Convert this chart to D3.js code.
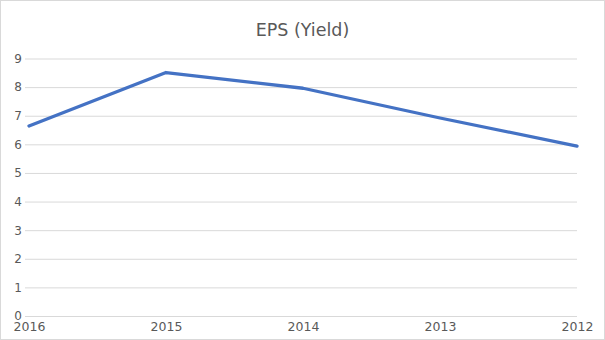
<!DOCTYPE html>
<html><head><meta charset="utf-8">
<script src="https://cdn.jsdelivr.net/npm/d3@7"></script>
<style>body{margin:0;background:#fff}svg{display:block}</style>
</head><body>
<svg id="c" width="605" height="340"></svg>
<script>
const categories = ["2016","2015","2014","2013","2012"];
const epsValues = [6.64, 8.51, 7.96, 6.92, 5.94];
const yTicks = [0,1,2,3,4,5,6,7,8,9];
const title = "EPS (Yield)";

const svg = d3.select("#c");
const W = 605, H = 340;
const m = {left: 29, right: 28, top: 58.5, bottom: 24};
const font = "DejaVu Sans, sans-serif";

svg.append("rect").attr("x",0.5).attr("y",0.5).attr("width",W-1).attr("height",H-1)
  .attr("fill","#fff").attr("stroke","#d9d9d9");

const x = d3.scalePoint().domain(categories).range([m.left, W - m.right]).padding(0);
const y = d3.scaleLinear().domain([0,9]).range([H - m.bottom, m.top]);

const yAxis = svg.append("g").attr("transform",`translate(${m.left - 4},0)`)
  .call(d3.axisLeft(y).tickValues(yTicks).tickSize(-(W - m.right - m.left + 4)).tickPadding(3).tickFormat(d3.format("d")));
yAxis.select(".domain").remove();
yAxis.selectAll(".tick line").attr("stroke","#d9d9d9");
yAxis.selectAll(".tick text").attr("fill","#595959").attr("font-family",font).attr("font-size","12px");

const xAxis = svg.append("g").attr("transform",`translate(0,${H - m.bottom})`)
  .call(d3.axisBottom(x).tickSize(0).tickPadding(6));
xAxis.select(".domain").remove();
xAxis.selectAll(".tick text").attr("fill","#595959").attr("font-family",font).attr("font-size","12.5px");

const line = d3.line().x((d,i)=>x(categories[i])).y(d=>y(d));
svg.append("path").datum(epsValues).attr("d",line).attr("fill","none")
  .attr("stroke","#4472C4").attr("stroke-width",3.3).attr("stroke-linejoin","round").attr("stroke-linecap","round");

svg.append("text").attr("x",W/2).attr("y",36).attr("text-anchor","middle")
  .attr("font-family",font).attr("font-size","17.5px").attr("fill","#595959").text(title);
</script>
</body></html>
